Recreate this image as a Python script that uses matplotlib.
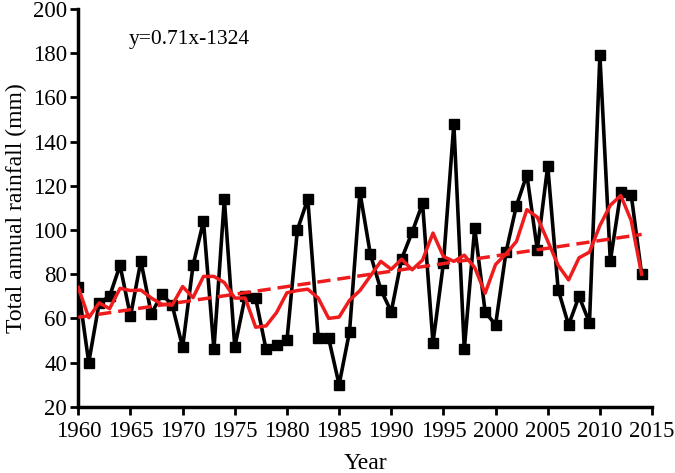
import numpy as np
import matplotlib
matplotlib.use("Agg")
from matplotlib import pyplot as plt

# annual rainfall
years = list(range(1960, 2015))
rainfall = [74, 40, 67, 70, 84, 61, 86, 62, 71, 66,
            47, 84, 104, 46, 114, 47, 70, 69, 46, 48,
            50, 100, 114, 51, 51, 30, 54, 117, 89, 73,
            63, 87, 99, 112, 49, 85, 148, 46, 101, 63,
            57, 90, 111, 125, 91, 129, 73, 57, 70, 58,
            179, 86, 117, 116, 80]

# red smoothed curve (5-yr running mean as drawn)
smoothed = [74, 60.3, 67.0, 64.4, 73.6, 72.6, 72.8, 69.2, 66.4, 66.0,
            74.4, 69.4, 79.0, 79.0, 76.2, 69.2, 69.2, 56.0, 56.6, 62.6,
            71.6, 72.6, 73.2, 69.2, 60.0, 60.6, 68.2, 72.6, 79.2, 85.8,
            82.2, 86.8, 82.0, 86.4, 98.6, 88.0, 85.8, 88.6, 83.0, 71.4,
            84.4, 89.2, 94.8, 109.2, 105.8, 95.0, 84.0, 77.4, 87.4, 90.0,
            102.0, 111.2, 115.6, 104.3, 80]

# trend line end points
trend_years = [1960, 2014]
trend_vals = [60.5, 98.0]

x_ticks = list(range(1960, 2016, 5))
y_ticks = list(range(20, 201, 20))

plt.rcParams['font.family'] = ['Liberation Serif', 'DejaVu Serif']

fig = plt.figure(figsize=(6.75, 4.73), dpi=100)
ax = fig.add_axes([0.116, 0.140, 0.850, 0.841])

ax.plot(years, rainfall, color='black', lw=2.6, marker='s', ms=6.5,
        markerfacecolor='black', markeredgecolor='black', zorder=3)
ax.plot(years, smoothed, color='#ee1c1c', lw=2.5, zorder=4)
ax.plot(trend_years, trend_vals, color='#ee1c1c', lw=2.5, ls=(0, (3.8, 2)), zorder=4)

ax.text(1964.8, 186, 'y=0.71x-1324', fontsize=15.5, va='center', ha='left')

ax.set_xlim(1960, 2015)
ax.set_ylim(20, 200)
ax.set_xticks(x_ticks)
ax.set_yticks(y_ticks)
ax.tick_params(labelsize=16.5, width=2, length=6, direction='out')
ax.tick_params(axis='x', pad=4)
ax.tick_params(axis='y', pad=2)

for s in ['top', 'right']:
    ax.spines[s].set_visible(False)
for s in ['left', 'bottom']:
    ax.spines[s].set_linewidth(2.5)

ax.set_xlabel('Year', fontsize=17, labelpad=8)
ax.set_ylabel('Total annual rainfall (mm)', fontsize=17, labelpad=4)

plt.savefig('out.png', dpi=100)
